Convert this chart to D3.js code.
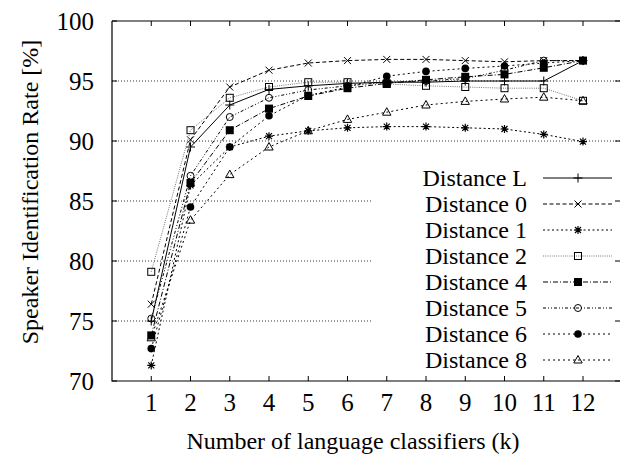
<!DOCTYPE html>
<html><head><meta charset="utf-8">
<script src="https://cdn.jsdelivr.net/npm/d3@7"></script>
<style>body{margin:0;background:#fff}svg{display:block}text{font-family:"Liberation Serif","Times New Roman",serif;fill:#000}</style>
</head><body><div id="chart"></div>
<script>
const ks = [1,2,3,4,5,6,7,8,9,10,11,12];
const yTicks = [70,75,80,85,90,95,100];
const seriesNames = ["Distance L","Distance 0","Distance 1","Distance 2","Distance 4","Distance 5","Distance 6","Distance 8"];
const distL = [75.0,89.5,93.0,94.3,94.6,94.8,94.9,94.9,95.0,95.0,95.0,96.7];
const dist0 = [76.4,90.1,94.5,95.9,96.5,96.7,96.8,96.8,96.7,96.6,96.7,96.7];
const dist1 = [71.3,86.3,89.5,90.4,90.85,91.1,91.2,91.2,91.1,91.0,90.55,89.95];
const dist2 = [79.1,90.9,93.6,94.5,94.9,94.9,94.75,94.6,94.5,94.4,94.4,93.35];
const dist4 = [73.8,86.5,90.9,92.7,93.75,94.4,94.8,95.1,95.35,95.55,96.1,96.7];
const dist5 = [75.2,87.1,92.0,93.6,94.25,94.6,94.9,95.0,95.2,95.9,96.7,96.7];
const dist6 = [72.7,84.5,89.5,92.1,93.8,94.5,95.4,95.8,96.05,96.25,96.5,96.7];
const dist8 = [73.6,83.4,87.2,89.5,90.85,91.8,92.4,93.0,93.3,93.5,93.65,93.35];
const seriesValues = [distL,dist0,dist1,dist2,dist4,dist5,dist6,dist8];

const styles = [
  {dash:null, color:"#000", marker:"plus"},
  {dash:"4,2.5", color:"#000", marker:"cross"},
  {dash:"2,2.5", color:"#000", marker:"star"},
  {dash:"1,1.2", color:"#777", marker:"square"},
  {dash:"5,2,1,2", color:"#000", marker:"fsquare"},
  {dash:"3,2,1,2,1,2", color:"#000", marker:"circle"},
  {dash:"2,3", color:"#000", marker:"fcircle"},
  {dash:"2,3", color:"#000", marker:"triangle"}
];

const W=621,H=460, L=112, R=620, T=21, B=381;
const svg = d3.select("#chart").append("svg").attr("width",W).attr("height",H);
const x = d3.scaleLinear().domain([0,13]).range([L,L+13*39.25]);
const y = d3.scaleLinear().domain([70,100]).range([B,T]);

svg.append("g").selectAll("line").data(yTicks.filter(v=>v>70&&v<100)).join("line")
  .attr("x1",L).attr("x2",R).attr("y1",d=>y(d)).attr("y2",d=>y(d))
  .attr("stroke","#000").attr("stroke-width",0.8).attr("stroke-dasharray","1,2");

function drawMarker(g, type, cx, cy, color){
  const s=3.5;
  if(type==="plus"){
    g.append("path").attr("d",`M${cx-4.5},${cy}H${cx+4.5}M${cx},${cy-4.5}V${cy+4.5}`).attr("stroke",color).attr("stroke-width",1);
  } else if(type==="cross"){
    g.append("path").attr("d",`M${cx-s},${cy-s}L${cx+s},${cy+s}M${cx-s},${cy+s}L${cx+s},${cy-s}`).attr("stroke",color).attr("stroke-width",1);
  } else if(type==="star"){
    g.append("path").attr("d",`M${cx-4},${cy}H${cx+4}M${cx},${cy-4}V${cy+4}M${cx-3},${cy-3}L${cx+3},${cy+3}M${cx-3},${cy+3}L${cx+3},${cy-3}`).attr("stroke",color).attr("stroke-width",1.2);
  } else if(type==="square"){
    g.append("rect").attr("x",cx-s).attr("y",cy-s).attr("width",2*s).attr("height",2*s).attr("fill","none").attr("stroke","#000").attr("stroke-width",1);
  } else if(type==="fsquare"){
    g.append("rect").attr("x",cx-s-0.5).attr("y",cy-s-0.5).attr("width",2*s+1).attr("height",2*s+1).attr("fill","#000");
  } else if(type==="circle"){
    g.append("circle").attr("cx",cx).attr("cy",cy).attr("r",s).attr("fill","none").attr("stroke","#000").attr("stroke-width",1);
  } else if(type==="fcircle"){
    g.append("circle").attr("cx",cx).attr("cy",cy).attr("r",s+0.3).attr("fill","#000");
  } else if(type==="triangle"){
    g.append("path").attr("d",`M${cx},${cy-4.5}L${cx+4.2},${cy+3}L${cx-4.2},${cy+3}Z`).attr("fill","none").attr("stroke","#000").attr("stroke-width",1);
  }
}
const line = d3.line().x((d,i)=>x(ks[i])).y(d=>y(d));
seriesValues.forEach((vals,si)=>{
  const st=styles[si];
  const g=svg.append("g");
  g.append("path").datum(vals).attr("d",line).attr("fill","none").attr("stroke",st.color)
    .attr("stroke-width",1).attr("stroke-dasharray",st.dash);
  vals.forEach((v,i)=>drawMarker(g,st.marker,x(ks[i]),y(v),"#000"));
});

const legX0=371, legY0=162, rowH=26, legTextX=527, legLineX1=543, legLineX2=612, legMarkX=578;
svg.append("rect").attr("x",legX0).attr("y",legY0).attr("width",R-legX0).attr("height",210).attr("fill","#fff");
seriesNames.forEach((nm,si)=>{
  const cy=178+si*rowH, st=styles[si];
  const g=svg.append("g");
  g.append("text").attr("x",legTextX).attr("y",cy).attr("dy","0.35em").attr("text-anchor","end")
    .style("font-size","24px").text(nm);
  g.append("line").attr("x1",legLineX1).attr("x2",legLineX2).attr("y1",cy).attr("y2",cy)
    .attr("stroke",st.color).attr("stroke-width",1).attr("stroke-dasharray",st.dash);
  drawMarker(g,st.marker,legMarkX,cy,"#000");
});

svg.append("path").attr("d",`M${L},${T}H${R}M${L},${T}V${B}H${R}`).attr("fill","none").attr("stroke","#000").attr("stroke-width",1.2);
const tl=5;
const xt=svg.append("g");
ks.forEach(k=>{
  xt.append("line").attr("x1",x(k)).attr("x2",x(k)).attr("y1",B).attr("y2",B-tl).attr("stroke","#000");
  xt.append("line").attr("x1",x(k)).attr("x2",x(k)).attr("y1",T).attr("y2",T+tl).attr("stroke","#000");
  xt.append("text").attr("x",x(k)).attr("y",y(70)+21).attr("dy","0.35em").attr("text-anchor","middle").style("font-size","25px").text(k);
});
yTicks.forEach(v=>{
  xt.append("line").attr("x1",L).attr("x2",L+tl).attr("y1",y(v)).attr("y2",y(v)).attr("stroke","#000");
  xt.append("line").attr("x1",R).attr("x2",R-tl).attr("y1",y(v)).attr("y2",y(v)).attr("stroke","#000");
  xt.append("text").attr("x",94).attr("y",y(v)).attr("dy","0.35em").attr("text-anchor","end").style("font-size","25px").text(v);
});
svg.append("text").attr("x",353).attr("y",441).attr("dy","0.35em").attr("text-anchor","middle").style("font-size","24px").text("Number of language classifiers (k)");
svg.append("text").attr("transform","translate(30,192) rotate(-90)").attr("dy","0.35em").attr("text-anchor","middle").style("font-size","24px").text("Speaker Identification Rate [%]");
</script></body></html>
